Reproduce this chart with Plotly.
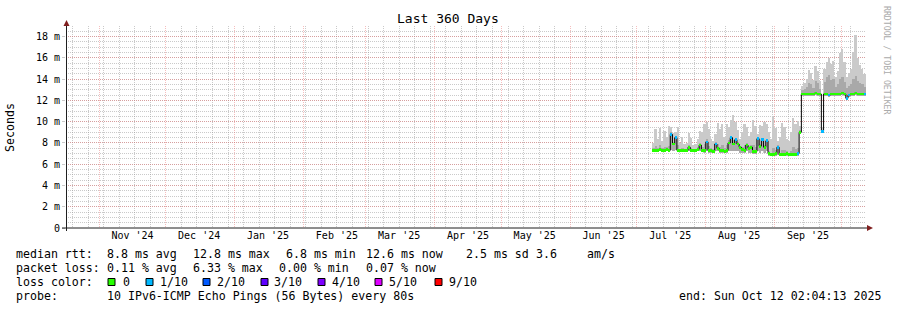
import plotly.graph_objects as go
import pandas as pd

# ---------------- data ----------------
DAY_MS = 86400000
dates = pd.date_range("2025-07-08", periods=96, freq="D")

median_ms = [
    7.3, 7.3, 7.3, 7.4, 7.3, 7.3, 7.4, 7.3, 8.8, 7.9,
    8.5, 7.3, 7.3, 7.3, 7.3, 7.3, 7.6, 7.3, 7.3, 7.3,
    7.4, 7.8, 7.3, 7.3, 8.1, 7.3, 7.3, 7.2, 7.9, 7.5,
    7.3, 7.3, 7.2, 7.3, 8.0, 8.5, 7.9, 8.3, 7.9, 7.6,
    7.4, 7.3, 7.8, 7.5, 7.6, 7.2, 7.2, 8.4, 7.7, 8.3,
    7.6, 8.2, 7.0, 6.9, 6.9, 7.0, 7.6, 6.9, 6.9, 6.9,
    7.0, 6.9, 6.9, 6.9, 6.9, 7.0, 9.0, 12.6, 12.6, 12.6,
    12.6, 12.6, 12.6, 12.7, 12.6, 12.6, 9.1, 12.6, 12.6, 12.5,
    12.6, 12.6, 12.6, 12.6, 12.6, 12.7, 12.6, 12.2, 12.5, 12.6,
    12.6, 12.7, 12.6, 12.6, 12.6, 12.6,
]
smoke_min_ms = [
    7.2, 7.2, 7.2, 7.2, 7.2, 7.2, 7.2, 7.2, 7.3, 7.2,
    7.3, 7.2, 7.2, 7.2, 7.2, 7.2, 7.2, 7.2, 7.2, 7.2,
    7.2, 7.2, 7.2, 7.1, 7.2, 7.1, 7.1, 7.1, 7.2, 7.2,
    7.1, 7.1, 7.1, 7.1, 7.2, 7.2, 7.2, 7.2, 7.2, 7.1,
    7.1, 7.1, 7.2, 7.1, 7.1, 7.0, 7.0, 7.2, 7.1, 7.2,
    7.1, 7.2, 6.8, 6.8, 6.8, 6.8, 6.9, 6.8, 6.8, 6.8,
    6.8, 6.8, 6.8, 6.8, 6.8, 6.8, 8.8, 12.4, 12.4, 12.4,
    12.4, 12.4, 12.4, 12.5, 12.4, 12.4, 9.0, 12.4, 12.4, 12.3,
    12.4, 12.4, 12.4, 12.4, 12.4, 12.5, 12.4, 12.0, 12.3, 12.4,
    12.4, 12.5, 12.4, 12.4, 12.4, 12.4,
]
smoke_mid_ms = [
    7.5, 7.7, 7.5, 7.8, 7.5, 7.6, 7.6, 7.7, 9.0, 8.1,
    8.7, 7.8, 7.4, 7.5, 7.4, 7.4, 7.8, 7.5, 7.4, 7.4,
    7.6, 8.0, 7.6, 7.9, 8.4, 7.7, 7.5, 7.4, 8.1, 7.9,
    7.6, 7.8, 7.5, 7.8, 8.3, 8.7, 8.3, 8.5, 8.1, 7.7,
    7.6, 7.8, 8.0, 7.7, 7.8, 7.8, 7.6, 8.5, 7.9, 8.5,
    7.8, 8.4, 7.2, 7.1, 7.5, 7.3, 7.8, 7.1, 7.3, 7.3,
    7.2, 7.1, 7.2, 7.6, 7.4, 7.5, 9.2, 13.0, 13.1, 13.3,
    13.6, 13.5, 13.2, 13.8, 13.6, 13.1, 9.2, 13.7, 14.2, 14.4,
    13.9, 14.0, 13.3, 13.5, 14.0, 14.2, 13.7, 13.2, 13.4, 13.5,
    14.0, 14.3, 13.8, 13.6, 13.5, 13.3,
]
smoke_max_ms = [
    8.0, 9.3, 8.4, 9.4, 8.2, 9.1, 8.6, 9.6, 9.5, 8.9,
    9.0, 9.5, 8.0, 8.6, 7.9, 8.0, 8.9, 8.5, 7.8, 7.9,
    8.4, 9.1, 9.0, 9.8, 10.0, 9.3, 8.4, 8.2, 8.8, 9.9,
    9.3, 9.8, 8.6, 9.8, 9.5, 10.2, 10.6, 10.0, 9.2, 8.4,
    8.9, 9.8, 9.5, 8.7, 9.0, 10.2, 9.6, 8.8, 9.7, 9.6,
    10.0, 9.8, 9.0, 8.4, 10.5, 9.4, 8.2, 8.6, 9.9, 9.5,
    8.4, 8.2, 9.0, 10.3, 9.8, 10.1, 9.6, 13.4, 13.6, 14.0,
    14.9, 14.6, 13.9, 15.2, 14.8, 13.8, 9.4, 15.0, 15.6, 16.0,
    15.4, 15.7, 14.2, 14.8, 16.5, 16.8, 15.6, 14.2, 14.6, 15.0,
    16.6, 18.2, 16.0, 15.3, 15.0, 14.5,
]
loss_tenths = [
    0, 0, 0, 0, 0, 0, 0, 0, 1, 0,
    1, 0, 0, 0, 0, 0, 0, 0, 0, 0,
    0, 0, 0, 0, 1, 0, 0, 0, 1, 0,
    0, 0, 0, 0, 0, 1, 0, 1, 0, 0,
    0, 0, 0, 0, 0, 0, 0, 1, 0, 1,
    0, 1, 0, 0, 0, 0, 1, 0, 0, 0,
    0, 0, 0, 0, 0, 1, 0, 0, 0, 0,
    0, 0, 0, 0, 0, 0, 1, 0, 0, 1,
    0, 0, 0, 0, 0, 0, 0, 1, 1, 0,
    0, 0, 0, 0, 0, 1,
]

loss_levels = [0, 1, 2, 3, 4, 5, 9]
loss_labels = ["0", "1/10", "2/10", "3/10", "4/10", "5/10", "9/10"]
loss_colors = ["#26ff00", "#00b8ff", "#0059ff", "#5e00ff", "#7e00ff", "#dd00ff", "#ff0000"]

range_start = "2024-10-17 02:04:13"
range_end = "2025-10-12 02:04:13"
month_starts = ["2024-11-01", "2024-12-01", "2025-01-01", "2025-02-01", "2025-03-01",
                "2025-04-01", "2025-05-01", "2025-06-01", "2025-07-01", "2025-08-01",
                "2025-09-01"]
month_labels = ["Nov '24", "Dec '24", "Jan '25", "Feb '25", "Mar '25", "Apr '25",
                "May '25", "Jun '25", "Jul '25", "Aug '25", "Sep '25"]
y_tick_vals = [0, 2, 4, 6, 8, 10, 12, 14, 16, 18]
y_tick_text = ["0", "2 m", "4 m", "6 m", "8 m", "10 m", "12 m", "14 m", "16 m", "18 m"]

title_text = "Last 360 Days"
rtt_stats = ["8.8 ms avg", "12.8 ms max", "6.8 ms min", "12.6 ms now", "2.5 ms sd", "3.6", "am/s"]
loss_stats = ["0.11 % avg", "6.33 % max", "0.00 % min", "0.07 % now"]
probe_text = "10 IPv6-ICMP Echo Pings (56 Bytes) every 80s"
end_text = "end: Sun Oct 12 02:04:13 2025"

# ---------------- layout constants ----------------
L, T, W, H = 66, 26, 800, 202
FONT = "DejaVu Sans Mono"
MINOR = "rgba(150,150,150,0.5)"
MAJOR = "rgba(230,100,100,0.42)"
ARROW = "#801f1f"
AXIS = "#1f1f1f"


def ax(px):
    return (px - L) / W


def ay(py):
    return (T + H - py) / H


color_for = dict(zip(loss_levels, loss_colors))
label_dates = [pd.Timestamp(m) + pd.Timedelta(days=15) for m in month_starts]

fig = go.Figure()
fig.add_trace(go.Bar(
    x=dates, base=smoke_min_ms,
    y=[hi - lo for hi, lo in zip(smoke_max_ms, smoke_min_ms)],
    width=DAY_MS * 0.75, offset=DAY_MS * 0.125,
    marker=dict(color="#cacaca", line=dict(width=0)),
    hoverinfo="skip", showlegend=False))
fig.add_trace(go.Bar(
    x=dates, base=smoke_min_ms,
    y=[mid - lo for mid, lo in zip(smoke_mid_ms, smoke_min_ms)],
    width=DAY_MS, offset=0, marker=dict(color="#a9a9a9", line=dict(width=0)),
    hoverinfo="skip", showlegend=False))
fig.add_trace(go.Scatter(
    x=dates, y=median_ms, mode="lines", line=dict(color="#000000", width=1, shape="hv"),
    xaxis="x2", hoverinfo="skip", showlegend=False))
fig.add_trace(go.Bar(
    x=dates, base=[m - 0.13 for m in median_ms], y=[0.26] * len(median_ms),
    width=DAY_MS, offset=0,
    marker=dict(color=[color_for[l] for l in loss_tenths], line=dict(width=0)),
    xaxis="x3", hoverinfo="skip", showlegend=False))

annotations = []


def text(s, x, y, anchor="left", size=11.6, color="#000000", angle=0):
    annotations.append(dict(
        text=s, x=ax(x), y=ay(y), xref="paper", yref="paper", xanchor=anchor,
        yanchor="middle", showarrow=False, borderpad=0, borderwidth=0, textangle=angle,
        font=dict(family=FONT, size=size, color=color)))


text(title_text, 448, 19, anchor="center", size=13)
text("Seconds", 10, 127, anchor="center", angle=-90)
text("RRDTOOL / TOBI OETIKER", 887, 60, anchor="center", size=8.2, color="#aaaaaa", angle=90)

text("median rtt:", 16, 254)
for s, x in zip(rtt_stats, [107, 192.5, 286, 366, 466, 536, 587]):
    text(s, x, 254)
text("packet loss:", 16, 268)
for s, x in zip(loss_stats, [107, 192.5, 279, 365.5]):
    text(s, x, 268)
text("loss color:", 16, 282)
swatch_x = [108, 146, 203, 261, 318, 375, 435]
label_x = [123, 160, 217, 274, 332, 389, 449]
shapes = []
for c, lab, sx, lx in zip(loss_colors, loss_labels, swatch_x, label_x):
    shapes.append(dict(type="rect", xref="paper", yref="paper",
                       x0=ax(sx), x1=ax(sx + 7), y0=ay(285.5), y1=ay(278.5),
                       fillcolor=c, line=dict(color="#000000", width=1)))
    text(lab, lx, 282)
text("probe:", 16, 296)
text(probe_text, 107, 296)
text(end_text, 881, 296, anchor="right")

# axes lines and arrows
shapes.append(dict(type="line", xref="paper", yref="paper", x0=ax(62), x1=ax(868),
                   y0=0, y1=0, line=dict(color=AXIS, width=1), layer="above"))
shapes.append(dict(type="line", xref="paper", yref="paper", x0=ax(66.5), x1=ax(66.5),
                   y0=ay(231), y1=ay(24), line=dict(color=AXIS, width=1), layer="above"))
shapes.append(dict(type="path", xref="paper", yref="paper", layer="above",
                   path=f"M {ax(867)},{ay(225)} L {ax(873)},{ay(228)} L {ax(867)},{ay(231)} Z",
                   fillcolor=ARROW, line=dict(color=ARROW, width=0)))
shapes.append(dict(type="path", xref="paper", yref="paper", layer="above",
                   path=f"M {ax(63.5)},{ay(26)} L {ax(66.5)},{ay(20)} L {ax(69.5)},{ay(26)} Z",
                   fillcolor=ARROW, line=dict(color=ARROW, width=0)))

hidden_x = dict(type="date", overlaying="x", anchor="y", range=[range_start, range_end],
                visible=False, automargin=False)

fig.update_layout(
    template="none",
    width=897, height=310,
    margin=dict(l=L, r=897 - L - W, t=T, b=310 - T - H, pad=0, autoexpand=False),
    paper_bgcolor="white", plot_bgcolor="white",
    barmode="overlay", bargap=0, showlegend=False,
    font=dict(family=FONT, size=10, color="#000000"),
    xaxis=dict(type="date", range=[range_start, range_end], showticklabels=False,
               automargin=False,
               ticks="", showgrid=True, gridcolor=MAJOR, griddash="1px,1px", gridwidth=1,
               tickmode="linear", dtick="M1", tick0=month_starts[0], zeroline=False, showline=False,
               minor=dict(tickmode="linear", dtick=7 * DAY_MS, tick0="2024-10-20", showgrid=True,
                          gridcolor=MINOR, griddash="1px,1px", gridwidth=1)),
    xaxis2=dict(type="date", overlaying="x", anchor="y", side="bottom", automargin=False,
                range=[range_start, range_end], tickmode="array", tickvals=label_dates,
                ticktext=month_labels, showgrid=False, ticks="", zeroline=False,
                showline=False, tickfont=dict(family=FONT, size=10, color="#000000")),
    xaxis3=hidden_x,
    yaxis=dict(range=[0, 19], tickmode="array", tickvals=y_tick_vals, ticktext=y_tick_text,
               automargin=False,
               showgrid=True, gridcolor=MAJOR, griddash="1px,1px", gridwidth=1,
               minor=dict(tickmode="linear", tick0=0, dtick=0.5, showgrid=True,
                          gridcolor=MINOR, griddash="1px,1px", gridwidth=1),
               zeroline=False, ticks="outside", ticklen=3, tickcolor=MINOR, showline=False,
               tickfont=dict(family=FONT, size=10, color="#000000")),
    annotations=annotations, shapes=shapes,
)

fig.write_html("out.html")
